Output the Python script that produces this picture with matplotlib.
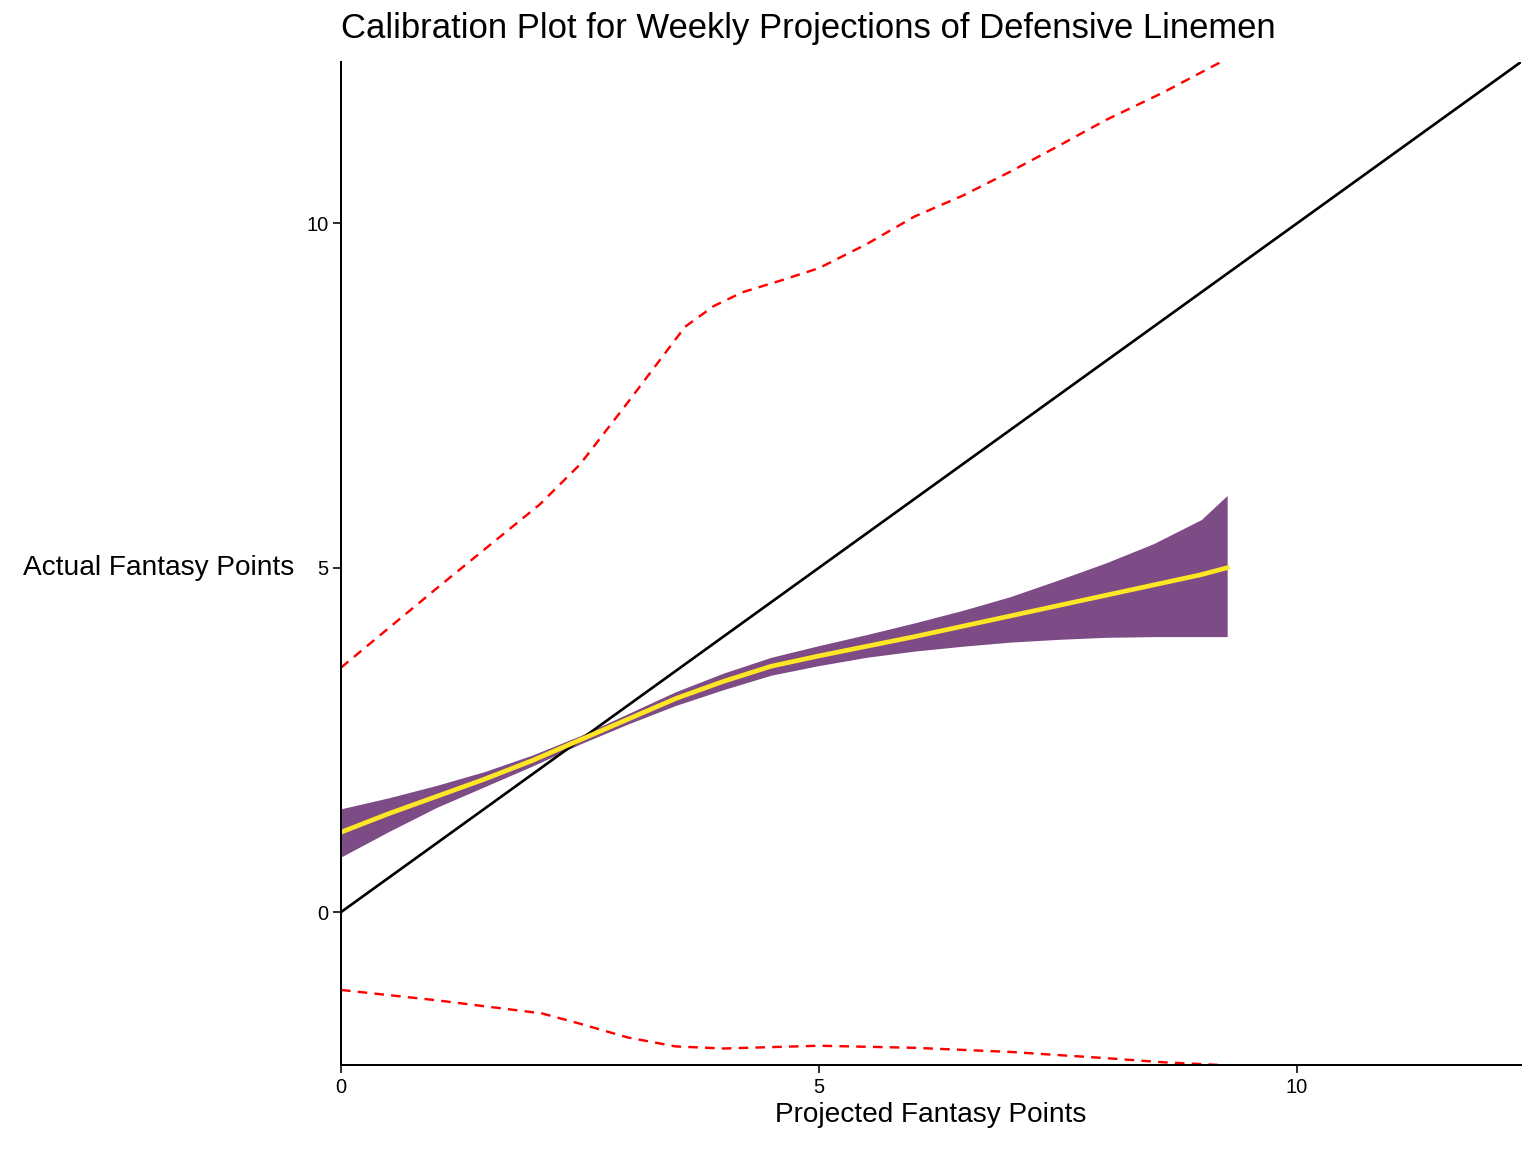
import numpy as np
import matplotlib.pyplot as plt

plt.rcParams['font.family'] = ['Liberation Sans', 'DejaVu Sans']

# smooth fit and confidence band
fit_x = [0, 0.5, 1, 1.5, 2, 2.5, 3, 3.5, 4, 4.5, 5, 5.5, 6, 6.5, 7, 7.5, 8, 8.5, 9, 9.27]
fit_y = [1.16, 1.43, 1.68, 1.93, 2.2, 2.5, 2.8, 3.1, 3.35, 3.57, 3.72, 3.86, 4.0, 4.15, 4.3, 4.45, 4.6, 4.75, 4.9, 5.0]
band_hi = [1.5, 1.66, 1.84, 2.04, 2.28, 2.56, 2.88, 3.2, 3.47, 3.7, 3.87, 4.03, 4.2, 4.38, 4.58, 4.82, 5.07, 5.35, 5.7, 6.05]
band_lo = [0.8, 1.17, 1.52, 1.82, 2.12, 2.44, 2.73, 3.0, 3.23, 3.44, 3.58, 3.7, 3.79, 3.86, 3.92, 3.96, 3.99, 4.0, 4.0, 4.0]

# prediction interval lines
up_x = [0, 1, 2.08, 2.5, 3, 3.6, 3.9, 4.2, 4.6, 5, 5.5, 6, 6.5, 7, 7.5, 8, 8.6, 9.2]
up_y = [3.55, 4.7, 5.92, 6.5, 7.4, 8.5, 8.8, 9.0, 9.17, 9.35, 9.7, 10.1, 10.4, 10.75, 11.12, 11.5, 11.9, 12.34]
lo_x = [0, 1, 2.1, 2.5, 3, 3.5, 4, 4.5, 5, 6, 7, 8, 8.6, 9.2]
lo_y = [-1.13, -1.28, -1.47, -1.62, -1.82, -1.95, -1.98, -1.96, -1.94, -1.97, -2.03, -2.12, -2.18, -2.22]

ticks = [0, 5, 10]
xmax, ymin, ymax = 12.34, -2.22, 12.34

fig = plt.figure(figsize=(16, 12), dpi=96)
ax = fig.add_axes([0.222, 0.0755, 0.768, 0.8705])

ax.plot([0, xmax], [0, xmax], color='black', lw=2)
ax.fill_between(fit_x, band_lo, band_hi, color='#7d4b85', lw=0)
ax.plot(fit_x, fit_y, color='#fde725', lw=3.5)
ax.plot(up_x, up_y, color='red', ls=(0, (4, 3)), lw=1.8)
ax.plot(lo_x, lo_y, color='red', ls=(0, (4, 3)), lw=1.8)

ax.set_xlim(0, xmax)
ax.set_ylim(ymin, ymax)
ax.set_xticks(ticks)
ax.set_yticks(ticks)
ax.tick_params(labelsize=15, length=6, width=1.2)
for s in ['top', 'right']:
    ax.spines[s].set_visible(False)
for s in ['left', 'bottom']:
    ax.spines[s].set_linewidth(1.5)

ax.set_xlabel('Projected Fantasy Points', fontsize=21)
ax.set_ylabel('Actual Fantasy Points', fontsize=21, rotation=0, ha='right', va='center')
ax.yaxis.set_label_coords(-0.04, (5 - ymin) / (ymax - ymin))
fig.text(0.222, 0.975, 'Calibration Plot for Weekly Projections of Defensive Linemen',
         fontsize=26, va='center')

fig.savefig('out.png')
